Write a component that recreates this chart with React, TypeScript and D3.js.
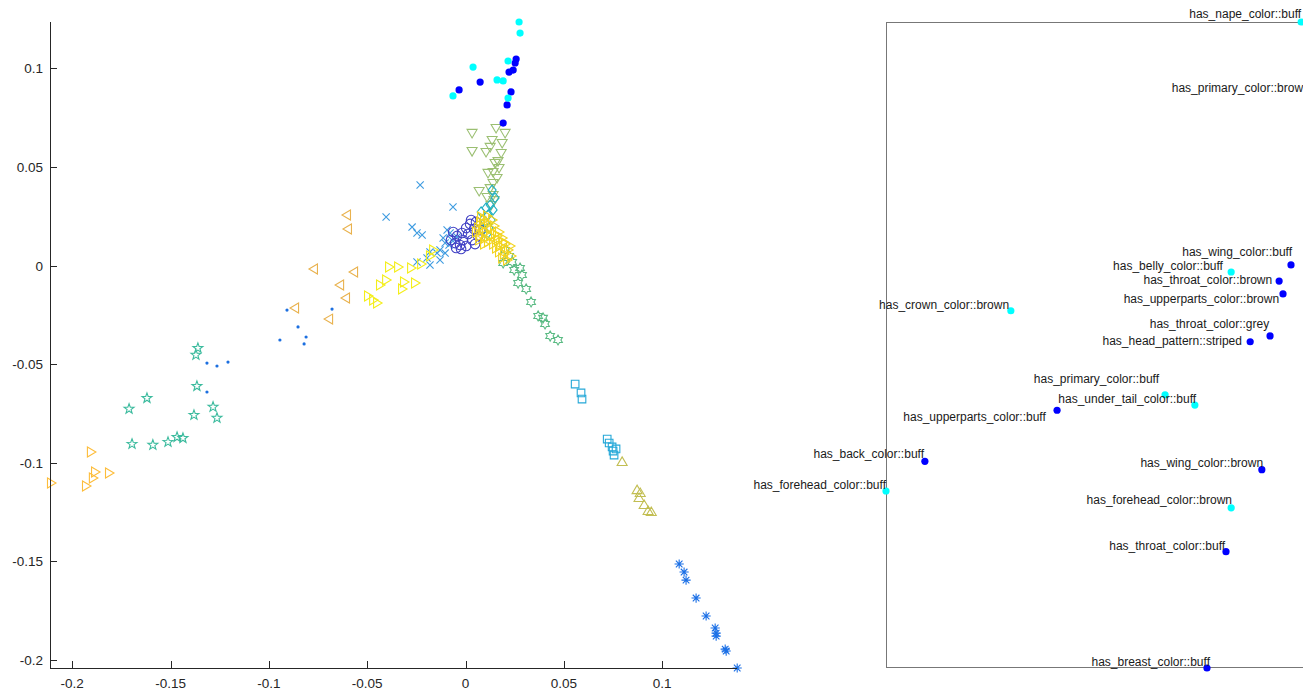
import React from 'react';
import * as d3 from 'd3';

// left panel: embedded points, one list per class, [x, y]
const filledCyan: [number, number][] = [
  [0.0272, 0.1236], [0.0277, 0.118], [0.0216, 0.1038], [0.0038, 0.1007],
  [0.016, 0.0942], [0.0191, 0.0937], [-0.0064, 0.0861], [0.0216, 0.085],
];
const filledBlue: [number, number][] = [
  [0.0257, 0.1048], [0.0252, 0.1028], [0.0242, 0.0992], [0.0221, 0.0982],
  [0.0074, 0.0931], [-0.0033, 0.0891], [0.0231, 0.0881], [0.0211, 0.0815],
  [0.0191, 0.0723],
];
const downTri: [number, number][] = [
  [0.0155, 0.0698], [0.0201, 0.0673], [0.0033, 0.0673], [0.0186, 0.0622],
  [0.0135, 0.0637], [0.0033, 0.0581], [0.0104, 0.0576], [0.0125, 0.0602],
  [0.0181, 0.0571], [0.0165, 0.053], [0.015, 0.052], [0.014, 0.0475],
  [0.017, 0.0495], [0.0114, 0.047], [0.014, 0.0419], [0.016, 0.0444],
  [0.0069, 0.0378], [0.0125, 0.0393], [0.014, 0.0358], [0.0109, 0.0348],
  [0.0145, 0.0332], [0.013, 0.0307],
];
const diamonds: [number, number][] = [
  [0.0135, 0.0383], [0.015, 0.0343], [0.0125, 0.0307], [0.014, 0.0282],
  [0.0114, 0.0256], [0.013, 0.0231], [0.0099, 0.0221], [0.012, 0.019],
  [0.0089, 0.018], [0.0109, 0.016], [0.0079, 0.0272], [0.0104, 0.0292],
];
const circles: [number, number][] = [
  [-0.0028, 0.0104], [-0.0053, 0.0114], [-0.0043, 0.015], [-0.0018, 0.0165],
  [0.0003, 0.019], [0.0023, 0.0211], [0.0043, 0.0185], [0.0064, 0.015],
  [0.0033, 0.0129], [0.0003, 0.0099], [-0.0023, 0.0084], [0.0013, 0.016],
  [0.0053, 0.0221], [0.0074, 0.018], [-0.0074, 0.0129], [-0.0013, 0.0129],
  [-0.0048, 0.0089], [0.0048, 0.0109], [0.0028, 0.0231], [-0.0063, 0.017],
];
const centreTri: [number, number][] = [
  [0.0074, 0.0221], [0.0094, 0.0231], [0.0114, 0.0211], [0.0064, 0.019],
  [0.0084, 0.018], [0.0104, 0.017], [0.0125, 0.019], [0.0145, 0.0201],
  [0.0074, 0.015], [0.0099, 0.014], [0.0125, 0.015], [0.015, 0.016],
  [0.017, 0.017], [0.0114, 0.0119], [0.014, 0.0109], [0.0165, 0.0129],
  [0.0186, 0.014], [0.0155, 0.0089], [0.0175, 0.0099], [0.0201, 0.0109],
  [0.017, 0.0069], [0.0196, 0.0058], [0.0216, 0.0079], [0.0186, 0.0038],
  [0.0211, 0.0028], [0.0231, 0.0048], [0.0089, 0.0201], [0.0135, 0.0231],
  [0.0053, 0.017], [0.016, 0.015], [0.0079, 0.0246], [0.0109, 0.0251],
  [0.0069, 0.013], [0.0094, 0.0109], [0.0191, 0.0119], [0.0226, 0.0099],
];
const hexagrams: [number, number][] = [
  [0.0201, 0.0079], [0.0221, 0.0048], [0.0191, 0.0013], [0.0237, 0.0018],
  [0.0247, -0.0023], [0.0277, -0.0013], [0.0287, -0.0048], [0.0267, -0.0089],
  [0.0308, -0.0119], [0.0333, -0.0185], [0.0369, -0.0256], [0.0394, -0.0266],
  [0.0404, -0.0297], [0.043, -0.0358], [0.047, -0.0378],
];
const squares: [number, number][] = [
  [0.0557, -0.0602], [0.0587, -0.0647], [0.0592, -0.0678], [0.072, -0.0881],
  [0.073, -0.0901], [0.0745, -0.0921], [0.0765, -0.0931], [0.0755, -0.0962],
  [0.075, -0.0942],
];
const upTri: [number, number][] = [
  [0.0796, -0.0997], [0.0872, -0.114], [0.0888, -0.1155], [0.0882, -0.118],
  [0.0908, -0.1216], [0.0928, -0.1246], [0.0944, -0.1251],
];
const asterisks: [number, number][] = [
  [0.1086, -0.1515], [0.1111, -0.1556], [0.1121, -0.1597], [0.1172, -0.1688],
  [0.1223, -0.1779], [0.1269, -0.184], [0.1274, -0.1866], [0.1274, -0.1881],
  [0.132, -0.1947], [0.1325, -0.1957], [0.1381, -0.2043],
];
const crosses: [number, number][] = [
  [-0.0231, 0.0409], [-0.0404, 0.0246], [-0.0064, 0.0297], [-0.0272, 0.0195],
  [-0.0247, 0.0165], [-0.0221, 0.0155], [-0.0094, 0.018], [-0.0079, 0.0165],
  [-0.0069, 0.0129], [-0.0104, 0.0114], [-0.013, 0.0079], [-0.0145, 0.0063],
  [-0.0181, 0.0069], [-0.0196, 0.0038], [-0.013, 0.0028], [-0.0247, 0.0018],
  [-0.0181, 0.0003], [-0.0104, 0.0063], [-0.0043, 0.0145], [-0.0084, 0.0104],
  [-0.0114, 0.014],
];
const points: [number, number][] = [
  [-0.0908, -0.0226], [-0.0679, -0.0221], [-0.0852, -0.0312], [-0.0811, -0.0363],
  [-0.0944, -0.0378], [-0.0821, -0.0398], [-0.1315, -0.0495], [-0.1264, -0.051],
  [-0.1208, -0.049], [-0.1315, -0.0642],
];
const pentagrams: [number, number][] = [
  [-0.1361, -0.0419], [-0.1371, -0.0454], [-0.1366, -0.0612], [-0.162, -0.0673],
  [-0.1711, -0.0728], [-0.1284, -0.0718], [-0.1381, -0.0759], [-0.1264, -0.0774],
  [-0.1696, -0.0906], [-0.159, -0.0911], [-0.1513, -0.0896], [-0.1467, -0.0871],
  [-0.1437, -0.0876],
];
const farRightTri: [number, number][] = [
  [-0.1905, -0.0947], [-0.2108, -0.1104], [-0.1884, -0.1048], [-0.1895, -0.1079],
  [-0.193, -0.1119], [-0.1813, -0.1053],
];
const leftTri: [number, number][] = [
  [-0.0603, 0.0256], [-0.0598, 0.0185], [-0.0771, -0.0018], [-0.0567, -0.0033],
  [-0.0638, -0.0099], [-0.0608, -0.0165], [-0.0867, -0.0216], [-0.0694, -0.0272],
];
const yellowRightTri: [number, number][] = [
  [-0.0389, -0.0008], [-0.0343, -0.0008], [-0.0277, -0.0013], [-0.0226, 0.0008],
  [-0.0181, 0.0048], [-0.0165, 0.0079], [-0.0435, -0.0099], [-0.0404, -0.0074],
  [-0.0313, -0.0084], [-0.0257, -0.0089], [-0.0323, -0.0119], [-0.0496, -0.0155],
  [-0.047, -0.0175], [-0.045, -0.019],
];

const xTicks = [-0.2, -0.15, -0.1, -0.05, 0, 0.05, 0.1];
const yTicks = [-0.2, -0.15, -0.1, -0.05, 0, 0.05, 0.1];

// right panel: attributes
const attrNames = [
  'has_nape_color::buff', 'has_primary_color::brown', 'has_wing_color::buff',
  'has_belly_color::buff', 'has_throat_color::brown', 'has_upperparts_color::brown',
  'has_crown_color::brown', 'has_throat_color::grey', 'has_head_pattern::striped',
  'has_primary_color::buff', 'has_under_tail_color::buff', 'has_upperparts_color::buff',
  'has_back_color::buff', 'has_forehead_color::buff', 'has_wing_color::brown',
  'has_forehead_color::brown', 'has_throat_color::buff', 'has_breast_color::buff',
];
const attrX = [0.961, 0.99, 0.9375, 0.799, 0.91, 0.919, 0.289, 0.889, 0.843, 0.646, 0.715, 0.396, 0.09, 0.0, 0.87, 0.799, 0.787, 0.743];
const attrY = [1.0, 0.887, 0.624, 0.613, 0.599, 0.579, 0.553, 0.514, 0.505, 0.423, 0.407, 0.399, 0.32, 0.274, 0.307, 0.248, 0.18, 0.0];
const attrGroup = [0, 0, 1, 0, 1, 1, 0, 1, 1, 0, 0, 1, 1, 0, 1, 0, 1, 1];
const labelX = [0.961, 0.981, 0.94, 0.78, 0.894, 0.91, 0.285, 0.887, 0.824, 0.632, 0.718, 0.37, 0.088, 0.0, 0.873, 0.801, 0.785, 0.75];
const labelY = [1.012, 0.898, 0.644, 0.622, 0.601, 0.571, 0.563, 0.533, 0.506, 0.447, 0.416, 0.389, 0.331, 0.283, 0.317, 0.26, 0.189, 0.009];

const groupColors = ['#00ffff', '#0000ff'];

function starPath(n: number, R: number, r: number): string {
  const pts: string[] = [];
  for (let i = 0; i < n * 2; i++) {
    const a = -Math.PI / 2 + (i * Math.PI) / n;
    const rad = i % 2 === 0 ? R : r;
    pts.push(`${(Math.cos(a) * rad).toFixed(2)},${(Math.sin(a) * rad).toFixed(2)}`);
  }
  return 'M' + pts.join('L') + 'Z';
}

function markerPath(m: string): string {
  switch (m) {
    case 'o': return 'M4.8,0A4.8,4.8 0 1,1 -4.8,0A4.8,4.8 0 1,1 4.8,0Z';
    case 'dot': return 'M1.6,0A1.6,1.6 0 1,1 -1.6,0A1.6,1.6 0 1,1 1.6,0Z';
    case 'fill': return 'M3.6,0A3.6,3.6 0 1,1 -3.6,0A3.6,3.6 0 1,1 3.6,0Z';
    case 'x': return 'M-3.6,-3.6L3.6,3.6M-3.6,3.6L3.6,-3.6';
    case '*': return 'M-4.6,0L4.6,0M0,-4.6L0,4.6M-3.3,-3.3L3.3,3.3M-3.3,3.3L3.3,-3.3';
    case 's': return 'M-3.8,-3.8H3.8V3.8H-3.8Z';
    case 'd': return 'M0,-5L4,0L0,5L-4,0Z';
    case 'v': return 'M-5,-3.5L5,-3.5L0,5Z';
    case '^': return 'M-5,3.5L5,3.5L0,-5Z';
    case '<': return 'M3.5,-5L3.5,5L-5,0Z';
    case '>': return 'M-3.5,-5L-3.5,5L5,0Z';
    case 'p': return starPath(5, 5.2, 2.1);
    case 'h': return starPath(6, 5, 2.9);
    default: return '';
  }
}

// draw order = back to front
const series = [
  { pts: crosses, marker: 'x', color: '#3d9be0' },
  { pts: points, marker: 'dot', color: '#1c6fe0', filled: true },
  { pts: pentagrams, marker: 'p', color: '#3cbb9e' },
  { pts: leftTri, marker: '<', color: '#e9b24e' },
  { pts: farRightTri, marker: '>', color: '#fdbd3b' },
  { pts: yellowRightTri, marker: '>', color: '#f4ee1a' },
  { pts: asterisks, marker: '*', color: '#1a6fe6' },
  { pts: squares, marker: 's', color: '#25a8d8' },
  { pts: upTri, marker: '^', color: '#c2be52' },
  { pts: hexagrams, marker: 'h', color: '#5bbb84' },
  { pts: downTri, marker: 'v', color: '#9bbf72' },
  { pts: diamonds, marker: 'd', color: '#1fb0c4' },
  { pts: circles, marker: 'o', color: '#4040c4' },
  { pts: centreTri, marker: '>', color: '#f2d31e' },
  { pts: filledBlue, marker: 'fill', color: '#0000ff', filled: true },
  { pts: filledCyan, marker: 'fill', color: '#00ffff', filled: true },
];

const W = 1303;
const H = 691;
const FONT = '"Liberation Sans", Arial, Helvetica, sans-serif';

export default function App() {
  const x = d3.scaleLinear().domain([-0.2113, 0.138]).range([50, 737]);
  const y = d3.scaleLinear().domain([-0.2043, 0.1236]).range([668, 22]);

  const rx = d3.scaleLinear().domain([0, 1]).range([886, 1318]);
  const ry = d3.scaleLinear().domain([0, 1]).range([668, 22]);

  const axisColor = '#262626';

  return (
    <svg width={W} height={H} style={{ position: 'absolute', left: 0, top: 0, display: 'block', background: '#fff' }} fontFamily={FONT}>
      {/* left scatter */}
      <g>
        {series.map((s, i) => (
          <g key={i}>
            {s.pts.map((p, j) => (
              <path
                key={j}
                transform={`translate(${x(p[0])},${y(p[1])})`}
                d={markerPath(s.marker)}
                fill={s.filled ? s.color : 'none'}
                stroke={s.filled ? 'none' : s.color}
                strokeWidth={1.1}
              />
            ))}
          </g>
        ))}
      </g>
      {/* axes */}
      <g stroke={axisColor} strokeWidth={1} fill="none">
        <line x1={50.5} x2={50.5} y1={22} y2={668.5} />
        <line x1={50} x2={737} y1={668.5} y2={668.5} />
        {xTicks.map((t) => (
          <line key={t} x1={Math.round(x(t)) + 0.5} x2={Math.round(x(t)) + 0.5} y1={668} y2={661} />
        ))}
        {yTicks.map((t) => (
          <line key={t} x1={50} x2={57} y1={Math.round(y(t)) + 0.5} y2={Math.round(y(t)) + 0.5} />
        ))}
      </g>
      <g fill={axisColor} fontSize={13.5}>
        {xTicks.map((t) => (
          <text key={t} x={x(t)} y={687.5} textAnchor="middle">{String(t)}</text>
        ))}
        {yTicks.map((t) => (
          <text key={t} x={43} y={y(t) + 5} textAnchor="end">{String(t)}</text>
        ))}
      </g>

      {/* right panel: attribute map */}
      <g stroke="#777" strokeWidth={1} fill="none">
        <line x1={886.5} x2={886.5} y1={22} y2={668} />
        <line x1={886} x2={W} y1={22.5} y2={22.5} />
        <line x1={886} x2={W} y1={667.5} y2={667.5} />
      </g>
      <g>
        {attrNames.map((n, i) => (
          <circle key={n} cx={rx(attrX[i])} cy={ry(attrY[i])} r={3.6} fill={groupColors[attrGroup[i]]} />
        ))}
      </g>
      <g fontSize={12} fill="#1a1a1a">
        {attrNames.map((n, i) => (
          <text key={n} x={rx(labelX[i])} y={ry(labelY[i])} dy="0.35em" textAnchor="end">{n}</text>
        ))}
      </g>
    </svg>
  );
}
